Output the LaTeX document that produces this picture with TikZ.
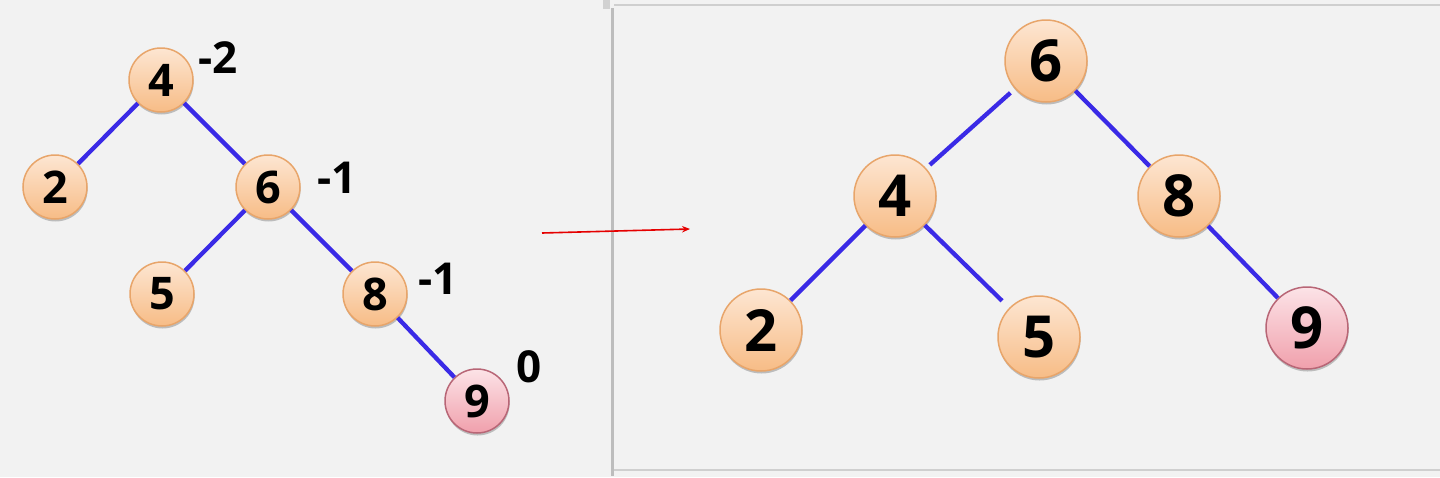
\documentclass[tikz,border=0pt]{standalone}
\usepackage{fontspec}
\setmainfont{Open Sans}
\usetikzlibrary{shadows,arrows.meta}
\definecolor{bgc}{HTML}{F2F2F2}
\definecolor{edgeblue}{RGB}{58,42,230}
\definecolor{peachtop}{HTML}{FDE6D2}
\definecolor{peachbot}{HTML}{F7BC86}
\definecolor{peachdraw}{HTML}{E8A56A}
\definecolor{pinktop}{HTML}{FCE3E7}
\definecolor{pinkbot}{HTML}{F0A0AC}
\definecolor{pinkdraw}{HTML}{B86676}
\definecolor{panelline}{HTML}{BDBDBD}
\definecolor{panelborder}{HTML}{CFCFCF}
\tikzset{
  treenode/.style={circle, draw=peachdraw, line width=1.5pt, top color=peachtop, bottom color=peachbot,
    inner sep=0pt, text=black,
    drop shadow={shadow xshift=0.6pt, shadow yshift=-2.5pt, opacity=0.22, fill=black}},
  small/.style={treenode, minimum size=64pt, font=\fontsize{45}{45}\selectfont\bfseries},
  big/.style={treenode, minimum size=82pt, font=\fontsize{58}{58}\selectfont\bfseries},
  hot/.style={draw=pinkdraw, top color=pinktop, bottom color=pinkbot},
  bal/.style={font=\fontsize{44}{44}\selectfont\bfseries, inner sep=0pt},
  edge/.style={draw=edgeblue, line width=4.3pt},
}
\begin{document}
\begin{tikzpicture}[x=1pt,y=-1pt]
\useasboundingbox (0,0) rectangle (1440,477);
\fill[bgc] (0,0) rectangle (1440,477);
% panels
\fill[panelline] (610.5,8) rectangle (613.5,476);
\fill[black!18] (603,0) rectangle (609.5,8.5);
\draw[panelborder, line width=2pt] (614,5) -- (1440,5);
\draw[panelborder, line width=2pt] (614,469.5) -- (1440,469.5);

% left tree
\node[small] (l4) at (161,80) {4};
\node[small] (l2) at (55,187) {2};
\node[small] (l6) at (268,187) {6};
\node[small] (l5) at (162,294) {5};
\node[small] (l8) at (375,294) {8};
\node[small, hot] (l9) at (477,401) {9};
\draw[edge] (l4) -- (l2);
\draw[edge] (l4) -- (l6);
\draw[edge] (l6) -- (l5);
\draw[edge] (l6) -- (l8);
\draw[edge] (l8) -- (l9);
\node[bal] (b4) at (218,58) {-2};
\node[bal] (b6) at (337,178) {-1};
\node[bal] (b8) at (438,279) {-1};
\node[bal] (b9) at (529,367) {0};

% arrow
\coordinate (as) at (542,233);
\coordinate (ae) at (690,229);
\draw[red!90!black, line width=1.6pt, -{Stealth[length=8pt,width=6.5pt]}] (as) -- (ae);

% right tree
\node[big] (r6) at (1046,61) {6};
\node[big] (r4) at (895,196) {4};
\node[big] (r8) at (1179,196) {8};
\node[big] (r2) at (761,330) {2};
\node[big] (r5) at (1039,337) {5};
\node[big, hot] (r9) at (1307,328) {9};
\draw[edge, shorten <=6pt, shorten >=5pt] (r6) -- (r4);
\draw[edge] (r6) -- (r8);
\draw[edge] (r4) -- (r2);
\draw[edge, shorten >=10pt] (r4) -- (r5);
\draw[edge] (r8) -- (r9);
\end{tikzpicture}
\end{document}
